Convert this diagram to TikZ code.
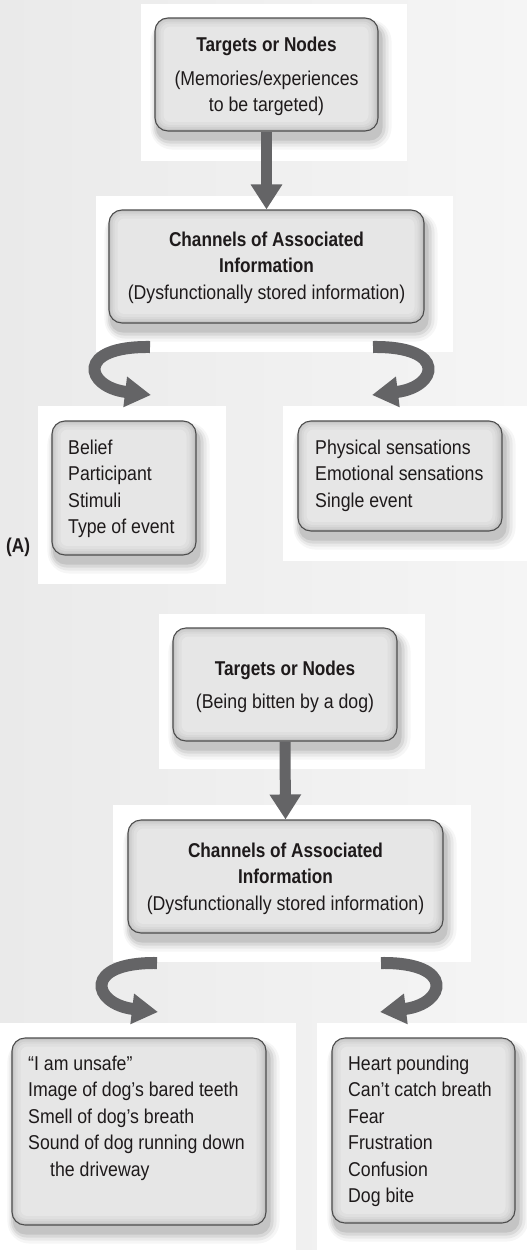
\documentclass[tikz,border=0pt]{standalone}
\usepackage{fontspec}
\setmainfont{Liberation Sans}[FakeStretch=0.885,BoldFeatures={FakeStretch=0.86}]
\usetikzlibrary{arrows.meta}
\definecolor{bgl}{HTML}{EAEAEA}
\definecolor{bgr}{HTML}{F5F5F5}
\definecolor{boxborder}{HTML}{4D4D4D}
\definecolor{bev0}{HTML}{C4C4C4}
\definecolor{bev1}{HTML}{CFCFCF}
\definecolor{bev2}{HTML}{D8D8D8}
\definecolor{bev3}{HTML}{DFDFDF}
\definecolor{bev4}{HTML}{E6E6E6}
\definecolor{arrowcol}{HTML}{646466}
\definecolor{txtcol}{HTML}{1E1A1B}
\pgfdeclarelayer{bglayer}
\pgfdeclarelayer{shadowlayer}
\pgfsetlayers{bglayer,shadowlayer,main}
\newcommand\cardshadow[1]{%
  \begin{pgfonlayer}{shadowlayer}
    \foreach \e/\o in {10/0.035,7/0.05,4/0.07,1/0.09}{
      \fill[black, opacity=\o, rounded corners={12pt+\e pt}]
        ([shift={(2pt-0.6*\e pt,-8pt-\e pt)}]#1.south west) rectangle
        ([shift={(3pt+\e pt,-8pt+0.6*\e pt)}]#1.north east);
    }
  \end{pgfonlayer}}
\tikzset{
  card/.style={draw=boxborder, line width=1.1pt, rounded corners=13pt, fill=bev0, inner sep=0pt,
    path picture={
      \foreach \i/\c/\r in {2/bev1/11,4/bev2/10,6/bev3/9,9/bev4/7}{
        \fill[\c, rounded corners=\r pt]
          ([shift={(\i pt-0.5pt,\i pt)}]path picture bounding box.south west) rectangle
          ([shift={(-\i pt-0.5pt,-\i pt+0.5pt)}]path picture bounding box.north east);
      }
    }},
  txt/.style={inner sep=0pt, text=txtcol, font=\fontsize{20}{26.4}\selectfont},
  lbl/.style={inner sep=0pt, text=txtcol, font=\fontsize{20}{26.4}\selectfont\bfseries},
  straightarrow/.style={draw=arrowcol, line width=11pt, -{Triangle[length=25pt,width=30pt]}},
  curvearrow/.style={draw=arrowcol, line width=12pt, -{Triangle[length=26pt,width=29pt]}}
}
\begin{document}
\begin{tikzpicture}[x=1pt,y=1pt]
\useasboundingbox (0,0) rectangle (527,-1250);
\begin{pgfonlayer}{bglayer}
  \shade[left color=bgl,right color=bgr] (0,0) rectangle (527,-1250);
  \fill[white] (141,-4) rectangle (407,-161);
  \fill[white] (96,-196) rectangle (453,-352);
  \fill[white] (38,-406) rectangle (226,-584);
  \fill[white] (283,-406) rectangle (527,-561);
  \fill[white] (159,-614) rectangle (425,-769);
  \fill[white] (113,-805) rectangle (471,-962);
  \fill[white] (0,-1023) rectangle (296,-1250);
  \fill[white] (317,-1023) rectangle (527,-1250);
\end{pgfonlayer}

% boxes
\node[card, minimum width=223pt, minimum height=113pt] (b1) at (266.5,-74.5) {};
\node[card, minimum width=315pt, minimum height=113pt] (b2) at (266.5,-266.5) {};
\node[card, minimum width=144pt, minimum height=134pt] (b3) at (124,-488) {};
\node[card, minimum width=204pt, minimum height=110pt] (b4) at (400,-476) {};
\node[card, minimum width=224pt, minimum height=113pt] (b5) at (285,-684.5) {};
\node[card, minimum width=315pt, minimum height=113pt] (b6) at (285.5,-876.5) {};
\node[card, minimum width=254pt, minimum height=187pt] (b7) at (139,-1131.5) {};
\node[card, minimum width=183pt, minimum height=185pt] (b8) at (423.5,-1130.5) {};
\cardshadow{b1}\cardshadow{b2}\cardshadow{b3}\cardshadow{b4}
\cardshadow{b5}\cardshadow{b6}\cardshadow{b7}\cardshadow{b8}

% texts
\node[txt, anchor=north, align=center] (t1) at (266.5,-37.3)
  {\textbf{Targets or Nodes}\\[7pt](Memories/experiences\\to be targeted)};
\node[txt, anchor=north, align=center] (t2) at (266.5,-231.8)
  {\textbf{Channels of Associated}\\\textbf{Information}\\(Dysfunctionally stored information)};
\node[txt, anchor=north west, align=left] (t3) at (68,-439.8)
  {Belief\\Participant\\Stimuli\\Type of event};
\node[txt, anchor=north west, align=left] (t4) at (315,-439.8)
  {Physical sensations\\Emotional sensations\\Single event};
\node[lbl, anchor=west] (lab) at (6,-547) {(A)};
\node[txt, anchor=north, align=center] (t5) at (285,-660.8)
  {\textbf{Targets or Nodes}\\[7pt](Being bitten by a dog)};
\node[txt, anchor=north, align=center] (t6) at (285.5,-842.8)
  {\textbf{Channels of Associated}\\\textbf{Information}\\(Dysfunctionally stored information)};
\node[txt, anchor=north west, align=left] (t7) at (28,-1055.8)
  {“I am unsafe”\\Image of dog’s bared teeth\\Smell of dog’s breath\\Sound of dog running down\\\hspace*{22pt}the driveway};
\node[txt, anchor=north west, align=left] (t8) at (348,-1055.8)
  {Heart pounding\\Can’t catch breath\\Fear\\Frustration\\Confusion\\Dog bite};

% straight arrows
\draw[straightarrow] (b1.south) -- (b2.north);
\draw[straightarrow] (b5.south) -- (b6.north);

% curved arrows
\coordinate (l1s) at (150,-347);
\coordinate (l1e) at (151,-395);
\coordinate (r1s) at (373,-347);
\coordinate (r1e) at (372,-395);
\coordinate (l2s) at (157,-963);
\coordinate (l2e) at (158,-1012);
\coordinate (r2s) at (381,-963);
\coordinate (r2e) at (380,-1012);
\draw[curvearrow] (l1s) .. controls (75,-346) and (85,-387) .. (l1e);
\draw[curvearrow] (r1s) .. controls (448,-346) and (438,-387) .. (r1e);
\draw[curvearrow] (l2s) .. controls (82,-962) and (92,-1004) .. (l2e);
\draw[curvearrow] (r2s) .. controls (456,-962) and (446,-1004) .. (r2e);
\end{tikzpicture}
\end{document}
